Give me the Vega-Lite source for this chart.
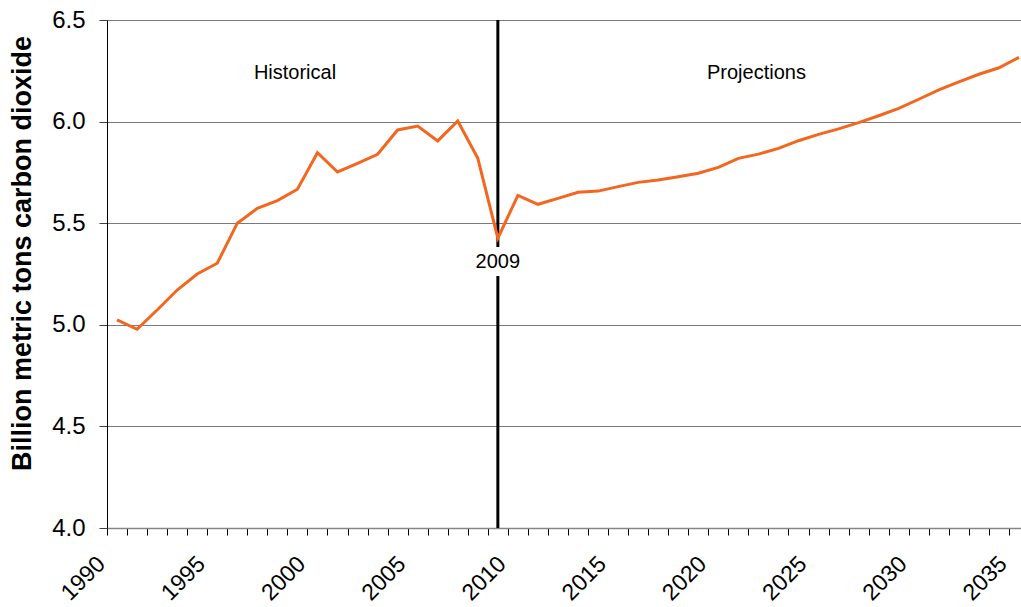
{
  "$schema": "https://vega.github.io/schema/vega-lite/v6.json",
  "autosize": {"type": "none"},
  "width": 914,
  "height": 508,
  "padding": {"left": 107, "top": 20, "right": 0, "bottom": 79},
  "background": "white",
  "config": {
    "view": {"stroke": null},
    "font": "Liberation Sans"
  },
  "resolve": {"axis": {"x": "independent"}},
  "datasets": {
    "emissions": [
      {"year": 1990, "value": 5.024}, {"year": 1991, "value": 4.978}, {"year": 1992, "value": 5.073},
      {"year": 1993, "value": 5.171}, {"year": 1994, "value": 5.25}, {"year": 1995, "value": 5.303},
      {"year": 1996, "value": 5.5}, {"year": 1997, "value": 5.573}, {"year": 1998, "value": 5.611},
      {"year": 1999, "value": 5.667}, {"year": 2000, "value": 5.847}, {"year": 2001, "value": 5.752},
      {"year": 2002, "value": 5.795}, {"year": 2003, "value": 5.839}, {"year": 2004, "value": 5.959},
      {"year": 2005, "value": 5.978}, {"year": 2006, "value": 5.905}, {"year": 2007, "value": 6.003},
      {"year": 2008, "value": 5.819}, {"year": 2009, "value": 5.426}, {"year": 2010, "value": 5.637},
      {"year": 2011, "value": 5.593}, {"year": 2012, "value": 5.622}, {"year": 2013, "value": 5.652},
      {"year": 2014, "value": 5.658}, {"year": 2015, "value": 5.68}, {"year": 2016, "value": 5.701},
      {"year": 2017, "value": 5.713}, {"year": 2018, "value": 5.729}, {"year": 2019, "value": 5.746},
      {"year": 2020, "value": 5.775}, {"year": 2021, "value": 5.819}, {"year": 2022, "value": 5.84},
      {"year": 2023, "value": 5.868}, {"year": 2024, "value": 5.906}, {"year": 2025, "value": 5.937},
      {"year": 2026, "value": 5.964}, {"year": 2027, "value": 5.995}, {"year": 2028, "value": 6.029},
      {"year": 2029, "value": 6.065}, {"year": 2030, "value": 6.11}, {"year": 2031, "value": 6.156},
      {"year": 2032, "value": 6.196}, {"year": 2033, "value": 6.233}, {"year": 2034, "value": 6.265},
      {"year": 2035, "value": 6.316}
    ],
    "divider": [
      {"year": 2009, "value": 4.0, "value2": 5.24},
      {"year": 2009, "value": 5.383, "value2": 6.5}
    ],
    "labels": [
      {"year": 1998.88, "value": 6.239, "label": "Historical"},
      {"year": 2021.9, "value": 6.239, "label": "Projections"},
      {"year": 2009, "value": 5.309, "label": "2009"}
    ]
  },
  "layer": [
    {
      "data": {"name": "divider"},
      "mark": {"type": "rule", "color": "#000000", "strokeWidth": 3},
      "encoding": {
        "x": {
          "field": "year", "type": "quantitative",
          "scale": {"domain": [1989.5, 2035.1], "nice": false, "zero": false},
          "axis": {
            "title": null,
            "orient": "bottom",
            "values": [1989.5,1990.5,1991.5,1992.5,1993.5,1994.5,1995.5,1996.5,1997.5,1998.5,1999.5,2000.5,2001.5,2002.5,2003.5,2004.5,2005.5,2006.5,2007.5,2008.5,2009.5,2010.5,2011.5,2012.5,2013.5,2014.5,2015.5,2016.5,2017.5,2018.5,2019.5,2020.5,2021.5,2022.5,2023.5,2024.5,2025.5,2026.5,2027.5,2028.5,2029.5,2030.5,2031.5,2032.5,2033.5,2034.5],
            "labels": false,
            "tickSize": 7,
            "tickColor": "#000000",
            "tickWidth": 1,
            "domainColor": "#868686",
            "domainWidth": 1.5,
            "grid": false
          }
        },
        "y": {
          "field": "value", "type": "quantitative",
          "scale": {"domain": [4.0, 6.5], "nice": false, "zero": false},
          "axis": {
            "title": "Billion metric tons carbon dioxide",
            "titleFontSize": 27,
            "titleFontWeight": "bold",
            "titleColor": "#000000",
            "titleAngle": -90,
            "titleAlign": "center",
            "titleBaseline": "middle",
            "titleX": -85,
            "titleY": 233,
            "values": [4.0, 4.5, 5.0, 5.5, 6.0, 6.5],
            "format": ".1f",
            "labelFontSize": 24,
            "labelColor": "#000000",
            "labelPadding": 14,
            "tickSize": 8,
            "tickColor": "#404040",
            "domainColor": "#000000",
            "domainWidth": 1,
            "grid": true,
            "gridColor": "#7a7a7a",
            "gridWidth": 1.2
          }
        },
        "y2": {"field": "value2"}
      }
    },
    {
      "data": {"name": "emissions"},
      "mark": {"type": "line", "color": "#F4661E", "strokeWidth": 3},
      "encoding": {
        "x": {
          "field": "year", "type": "quantitative",
          "axis": {
            "title": null,
            "orient": "bottom",
            "values": [1989.5, 1994.5, 1999.5, 2004.5, 2009.5, 2014.5, 2019.5, 2024.5, 2029.5, 2034.5],
            "labelExpr": "format(datum.value + 0.5, 'd')",
            "labelAngle": -45,
            "labelAlign": "right",
            "labelBaseline": "middle",
            "labelFontSize": 23,
            "labelColor": "#000000",
            "labelPadding": 32,
            "labelOffset": -6,
            "labelOverlap": false,
            "labelFlush": false,
            "labelBound": false,
            "ticks": false,
            "tickSize": 7,
            "domain": false,
            "grid": false
          }
        },
        "y": {"field": "value", "type": "quantitative"}
      }
    },
    {
      "data": {"name": "labels"},
      "mark": {"type": "text", "fontSize": 20, "color": "#000000", "align": "center", "baseline": "middle"},
      "encoding": {
        "x": {"field": "year", "type": "quantitative", "axis": null},
        "y": {"field": "value", "type": "quantitative"},
        "text": {"field": "label"}
      }
    }
  ]
}
